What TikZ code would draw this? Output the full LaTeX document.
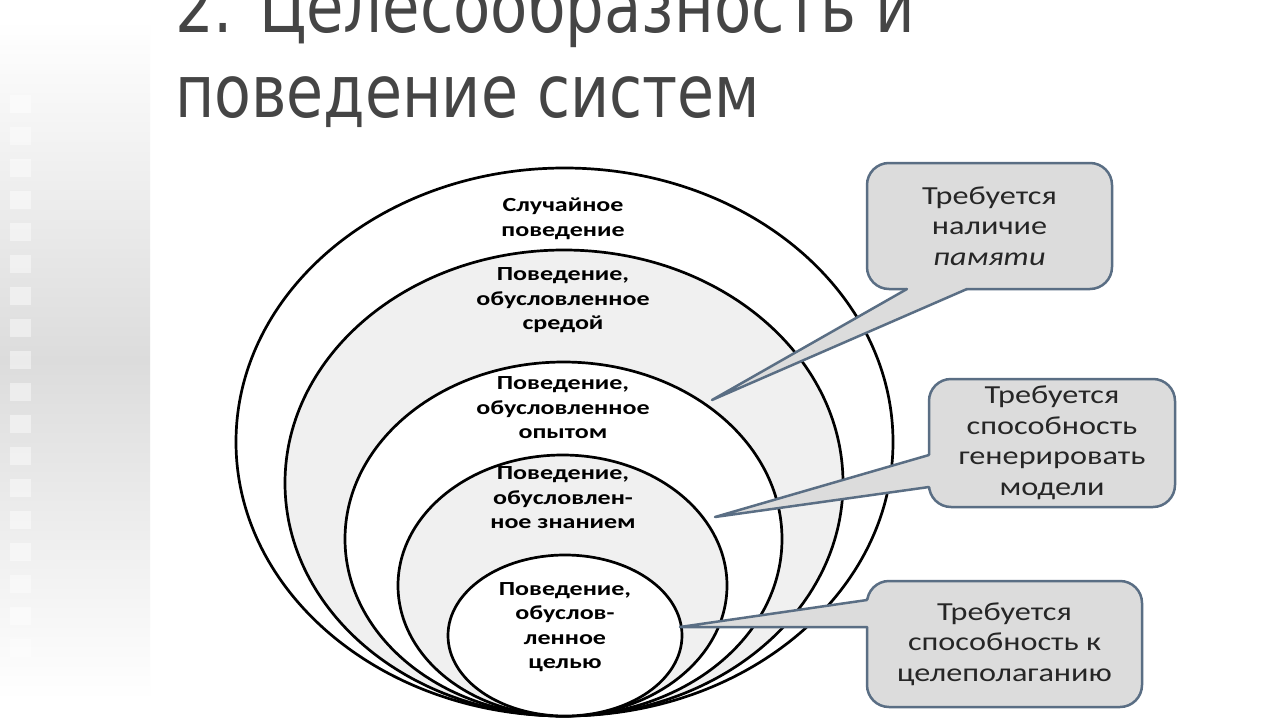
\documentclass[tikz,border=0pt]{standalone}
\usepackage{fontspec}
\usepackage{graphicx}
\usetikzlibrary{calc}
\setmainfont{Carlito}
\newfontfamily\titlefont{DejaVu Sans}
\definecolor{titlegray}{HTML}{454545}
\definecolor{ringgray}{HTML}{F0F0F0}
\definecolor{stripgray}{HTML}{DCDCDC}
\definecolor{boxfill}{HTML}{DCDCDC}
\definecolor{boxline}{HTML}{5A6E84}
\definecolor{txt}{HTML}{262626}
\newcommand\hs[1]{\scalebox{1.24}[1]{#1}}
\newcommand\hb[1]{\scalebox{1.3}[1]{#1}}
\tikzset{
  ring/.style={draw=black, line width=2.7pt},
  lbl/.style={inner sep=0pt, align=center, text=black, font=\bfseries\fontsize{20}{24.5}\selectfont},
  callout/.style={draw=boxline, fill=boxfill, line width=2.5pt, rounded corners=22pt,
    inner sep=0pt, align=center, text=txt, font=\fontsize{26}{30.5}\selectfont},
  ptrline/.style={draw=boxline, line width=2.5pt, line join=round, line cap=round},
  sq/.style={fill=white, opacity=0.45}
}
\begin{document}
\begin{tikzpicture}[x=1pt,y=-1pt]
\useasboundingbox (0,0) rectangle (1280,720);
\fill[white] (0,0) rectangle (1280,720);
% left strip
\shade[top color=white, bottom color=white, middle color=stripgray] (0,20) rectangle (150,700);
\foreach \k in {0,...,17} {
  \fill[sq] (10,{95+32*\k}) rectangle (31,{113+32*\k});
}
% title
\node[anchor=base west, inner sep=0pt, text=titlegray] (t1) at (175,32)
  {\titlefont\fontsize{73}{80}\selectfont\resizebox{740pt}{\height}{2. Целесообразность и}};
\node[anchor=base west, inner sep=0pt, text=titlegray] (t2) at (175,117)
  {\titlefont\fontsize{73}{80}\selectfont\resizebox{585pt}{\height}{поведение систем}};
% nested ellipses
\filldraw[ring, fill=white]    (564.5,442)   ellipse [x radius=328.5pt, y radius=274pt];
\filldraw[ring, fill=ringgray] (564,483)     ellipse [x radius=279pt,   y radius=233pt];
\filldraw[ring, fill=white]    (563.5,539)   ellipse [x radius=218.5pt, y radius=177pt];
\filldraw[ring, fill=ringgray] (562.5,585.5) ellipse [x radius=164.5pt, y radius=130.5pt];
\filldraw[ring, fill=white]    (565,635.5)   ellipse [x radius=117pt,   y radius=80.5pt];
% ellipse labels
\node[lbl] (l1) at (563,219) {\hb{Случайное}\\\hb{поведение}};
\node[lbl] (l2) at (563,300.5) {\hb{Поведение,}\\\hb{обусловленное}\\\hb{средой}};
\node[lbl] (l3) at (563,408) {\hb{Поведение,}\\\hb{обусловленное}\\\hb{опытом}};
\node[lbl] (l4) at (563,498) {\hb{Поведение,}\\\hb{обусловлен-}\\\hb{ное знанием}};
\node[lbl] (l5) at (565,627) {\hb{Поведение,}\\\hb{обуслов-}\\\hb{ленное}\\\hb{целью}};
% callouts
\node[callout, minimum width=245pt, minimum height=126pt] (c1) at (989.5,226)
  {\hs{Требуется}\\\hs{наличие}\\\hs{\itshape памяти}};
\node[callout, minimum width=246pt, minimum height=128pt] (c2) at (1052,443)
  {\hs{Требуется}\\\hs{способность}\\\hs{генерировать}\\\hs{модели}};
\node[callout, minimum width=275pt, minimum height=126pt] (c3) at (1004.5,644)
  {\hs{Требуется}\\\hs{способность к}\\\hs{целеполаганию}};
% pointer tips and bases
\coordinate (p1) at (712,400);
\coordinate (a1) at (907,289); \coordinate (b1) at (967,289);
\coordinate (p2) at (715,517);
\coordinate (a2) at (929,455); \coordinate (b2) at (929,487);
\coordinate (p3) at (680,627);
\coordinate (a3) at (867,600); \coordinate (b3) at (867,627);
\fill[boxfill] (p1) -- (a1) -- ($(a1)+(0,-6)$) -- ($(b1)+(0,-6)$) -- (b1) -- cycle;
\draw[ptrline] (a1) -- (p1) -- (b1);
\fill[boxfill] (p2) -- (a2) -- ($(a2)+(6,0)$) -- ($(b2)+(6,0)$) -- (b2) -- cycle;
\draw[ptrline] (a2) -- (p2) -- (b2);
\fill[boxfill] (p3) -- (a3) -- ($(a3)+(6,0)$) -- ($(b3)+(6,0)$) -- (b3) -- cycle;
\draw[ptrline] (a3) -- (p3) -- (b3);
\end{tikzpicture}
\end{document}
